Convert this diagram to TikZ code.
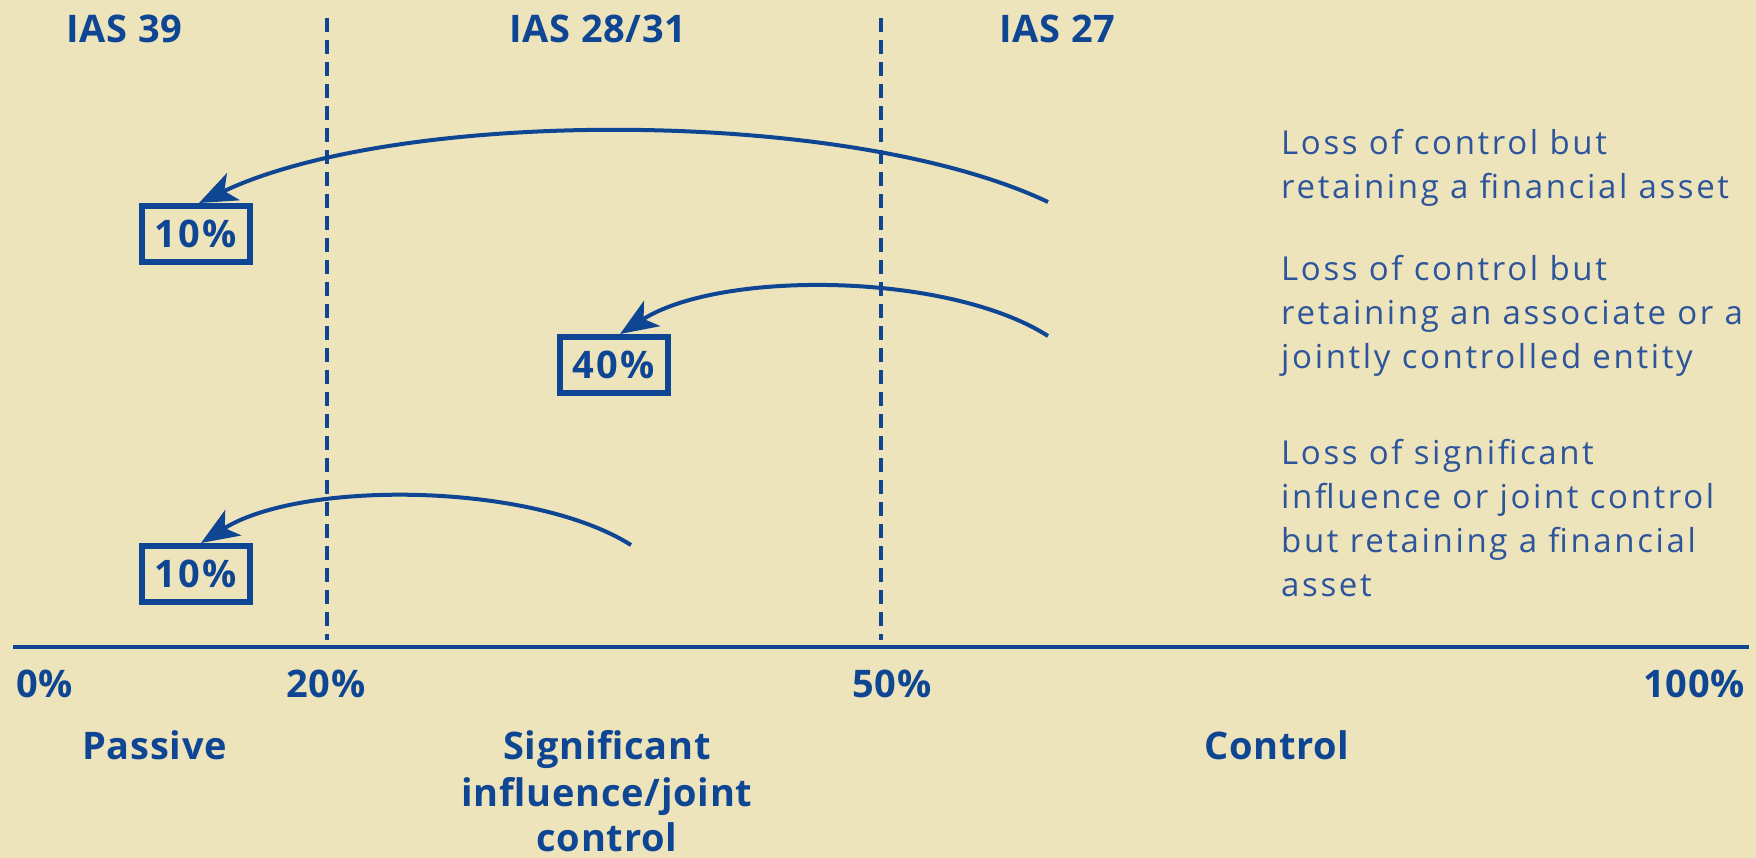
\documentclass[tikz,border=0pt]{standalone}
\usepackage{fontspec}
\setmainfont{Open Sans}[LetterSpace=2]
\newfontfamily\regfont[LetterSpace=8]{Open Sans}
\newfontfamily\boxfont[LetterSpace=6]{Open Sans}
\usetikzlibrary{arrows.meta}
\definecolor{bg}{RGB}{238,228,188}
\definecolor{navy}{RGB}{14,70,148}
\definecolor{txtblue}{RGB}{45,85,155}
\begin{document}
\begin{tikzpicture}[x=1pt,y=-1pt,
  boldlbl/.style={font=\fontsize{38}{44}\selectfont\bfseries, text=navy, inner sep=0pt},
  reg/.style={font=\regfont\fontsize{33}{44}\selectfont, text=txtblue, inner sep=0pt, anchor=base west},
  pct/.style={draw=navy, line width=6pt, minimum width=108pt, minimum height=56pt, inner sep=0pt,
              font=\boxfont\fontsize{38}{40}\selectfont\bfseries, text=navy},
  divider/.style={draw=navy, line width=4.5pt, dash pattern=on 14pt off 8pt},
  move/.style={draw=navy, line width=4pt, -{Stealth[length=38pt,width=30pt,inset=10pt]}}]
\useasboundingbox (0,0) rectangle (1756,858);
\fill[bg] (0,0) rectangle (1756,858);

% headers
\node[boldlbl, anchor=base west] (h39) at (66,43) {IAS 39};
\node[boldlbl, anchor=base west] (h28) at (509,43) {IAS 28/31};
\node[boldlbl, anchor=base west] (h27) at (999,43) {IAS 27};

% dividers
\coordinate (d20t) at (327,18);
\coordinate (d20b) at (327,640);
\coordinate (d50t) at (881,18);
\coordinate (d50b) at (881,640);
\draw[divider] (d20t) -- (d20b);
\draw[divider] (d50t) -- (d50b);

% axis
\coordinate (ax0) at (13,647);
\coordinate (ax1) at (1749,647);
\draw[navy, line width=4pt] (ax0) -- (ax1);

% axis labels
\node[boldlbl, anchor=base west] (p0) at (16,697) {0\%};
\node[boldlbl, anchor=base west] (p20) at (286,697) {20\%};
\node[boldlbl, anchor=base west] (p50) at (852,697) {50\%};
\node[boldlbl, anchor=base east] (p100) at (1745,697) {100\%};

\node[boldlbl, anchor=base west] (passive) at (82,759) {Passive};
\node[boldlbl, anchor=base] (sig1) at (607,759) {Significant};
\node[boldlbl, anchor=base] (sig2) at (607,806) {influence/joint};
\node[boldlbl, anchor=base] (sig3) at (607,851) {control};
\node[boldlbl, anchor=base west] (ctrl) at (1204,759) {Control};

% boxes
\node[pct] (b1) at (196,234) {10\%};
\node[pct] (b2) at (614,365) {40\%};
\node[pct] (b3) at (196,574) {10\%};

% arrows
\coordinate (s1) at (1048,202);
\coordinate (s2) at (1048,336);
\coordinate (s3) at (631,545);
\draw[move] (s1) .. controls +(-200,-95) and +(200,-95) .. ([xshift=3pt]b1.north);
\draw[move] (s2) .. controls +(-100,-64) and +(100,-64) .. ([xshift=6pt]b2.north);
\draw[move] (s3) .. controls +(-100,-63) and +(100,-63) .. ([xshift=5pt]b3.north);

% right-hand texts
\node[reg] (t11) at (1281,155) {Loss of control but};
\node[reg] (t12) at (1281,199) {retaining a financial asset};
\node[reg] (t21) at (1281,281) {Loss of control but};
\node[reg] (t22) at (1281,325) {retaining an associate or a};
\node[reg] (t23) at (1281,369) {jointly controlled entity};
\node[reg] (t31) at (1281,464) {Loss of significant};
\node[reg] (t32) at (1281,508) {influence or joint control};
\node[reg] (t33) at (1281,552) {but retaining a financial};
\node[reg] (t34) at (1281,596) {asset};
\end{tikzpicture}
\end{document}
